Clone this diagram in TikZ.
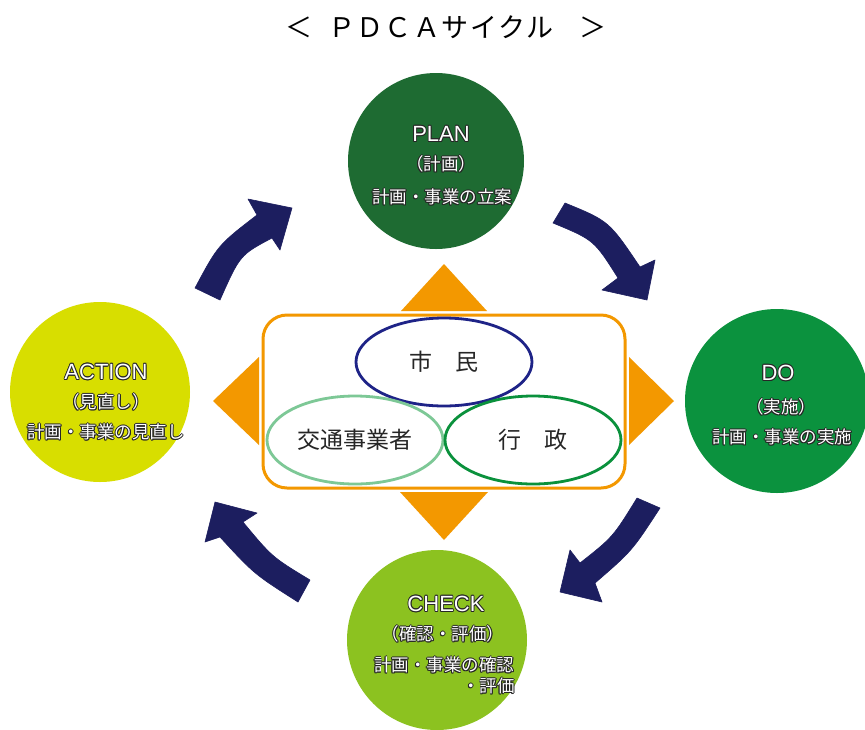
\documentclass[tikz,border=0pt]{standalone}
\usepackage{fontspec}
\setmainfont{Noto Sans CJK JP}
\newfontfamily\latinfont{Liberation Sans}
\usetikzlibrary{shapes.geometric}
\definecolor{plancol}{RGB}{30,107,50}
\definecolor{docol}{RGB}{11,146,62}
\definecolor{checkcol}{RGB}{140,194,32}
\definecolor{actcol}{RGB}{216,222,0}
\definecolor{orng}{RGB}{243,152,0}
\definecolor{navyarrow}{RGB}{28,30,95}
\definecolor{shiminc}{RGB}{30,35,135}
\definecolor{kotsuc}{RGB}{125,200,150}
\definecolor{gyoseic}{RGB}{10,145,60}
\newbox\halobox
\newcommand\hshift[2]{\rlap{\kern#1\raise#2\copy\halobox}}
\newcommand\halo[1]{\setbox\halobox\hbox{#1}\leavevmode{\color{black!85}\hshift{.8pt}{0pt}\hshift{-.8pt}{0pt}\hshift{0pt}{.8pt}\hshift{0pt}{-.8pt}\hshift{.6pt}{.6pt}\hshift{-.6pt}{.6pt}\hshift{.6pt}{-.6pt}\hshift{-.6pt}{-.6pt}}{\color{white}\box\halobox}}
\newcommand\tk{\kern1.4pt}
\begin{document}
\begin{tikzpicture}[x=1pt,y=-1pt,
  phasecircle/.style={circle, inner sep=0pt, draw=none},
  bigtxt/.style={inner sep=0pt, font=\latinfont\fontsize{22}{24}\selectfont},
  smalltxt/.style={inner sep=0pt, font=\fontsize{17.5}{19}\selectfont},
  ovaltxt/.style={ellipse, inner sep=0pt, line width=2.8pt, minimum width=176pt, minimum height=88pt, text=black!85, font=\fontsize{23}{25}\selectfont},
  orangetri/.style={fill=orng, draw=none},
  blockarrow/.style={fill=navyarrow, draw=navyarrow, line width=0.6pt, line join=round}]
\clip (0,0) rectangle (865,729);
\fill[white] (0,0) rectangle (865,729);
% title
\node[inner sep=0pt, anchor=west, font=\fontsize{27}{29}\selectfont] (title) at (285,27) {＜\hspace{16pt}Ｐ\tk Ｄ\tk Ｃ\tk Ａ\tk サ\tk イ\tk ク\tk ル\hspace{26pt}＞};
% phase circles
\node[phasecircle, fill=plancol, minimum size=176pt] (plan) at (436,161) {};
\node[phasecircle, fill=docol, minimum size=184pt] (do) at (777,401) {};
\node[phasecircle, fill=checkcol, minimum size=180pt] (check) at (437,640) {};
\node[phasecircle, fill=actcol, minimum size=180pt] (action) at (100,392) {};
% phase texts
\node[bigtxt] (planA) at (441,134) {\halo{PLAN}};
\node[smalltxt] (planB) at (441,164) {\halo{（計画）}};
\node[smalltxt] (planC) at (442,197) {\halo{計画・事業の立案}};
\node[bigtxt] (doA) at (778,373) {\halo{DO}};
\node[smalltxt] (doB) at (781,407) {\halo{（実施）}};
\node[smalltxt] (doC) at (782,437) {\halo{計画・事業の実施}};
\node[bigtxt] (checkA) at (446,604) {\halo{CHECK}};
\node[smalltxt] (checkB) at (443,634) {\halo{（確認・評価）}};
\node[smalltxt] (checkC) at (444,665) {\halo{計画・事業の確認}};
\node[smalltxt, anchor=east] (checkD) at (515,686) {\halo{・評価}};
\node[bigtxt] (actionA) at (106,372) {\halo{ACTION}};
\node[smalltxt] (actionB) at (106,402) {\halo{（見直し）}};
\node[smalltxt] (actionC) at (106,432) {\halo{計画・事業の見直し}};
% orange triangles
\fill[orangetri] (444,264) -- (487,311) -- (401,311) -- cycle;
\fill[orangetri] (444,540) -- (488,492) -- (400,492) -- cycle;
\fill[orangetri] (213,401) -- (259,357) -- (259,445) -- cycle;
\fill[orangetri] (674,401) -- (629,357) -- (629,445) -- cycle;
% centre box
\node[draw=orng, line width=3pt, rounded corners=24pt, fill=white, minimum width=362pt, minimum height=173pt, inner sep=0pt] (box) at (444,401.5) {};
\node[ovaltxt, draw=shiminc] (shimin) at (444,362) {市　民};
\node[ovaltxt, draw=kotsuc] (kotsu) at (355,440) {交通事業者};
\node[ovaltxt, draw=gyoseic] (gyosei) at (533,440) {行　政};
% block arrows
\filldraw[blockarrow] (195,288) .. controls (218,245) .. (257,215) -- (248,199) -- (292,208) -- (280,250) -- (272,238) .. controls (240,255) .. (220,300) -- cycle;
\filldraw[blockarrow] (565,203) .. controls (609,221) .. (640,267) -- (655,260) -- (647,300) -- (602,290) -- (618,278) .. controls (594,240) .. (553,223) -- cycle;
\filldraw[blockarrow] (660,508) .. controls (632,551) .. (595,583) -- (602,602) -- (560,592) -- (570,550) -- (580,563) .. controls (613,537) .. (637,498) -- cycle;
\filldraw[blockarrow] (310,580) .. controls (272,557) .. (243,522) -- (257,513) -- (215,502) -- (205,542) -- (220,537) .. controls (254,574) .. (298,602) -- cycle;
\end{tikzpicture}
\end{document}
